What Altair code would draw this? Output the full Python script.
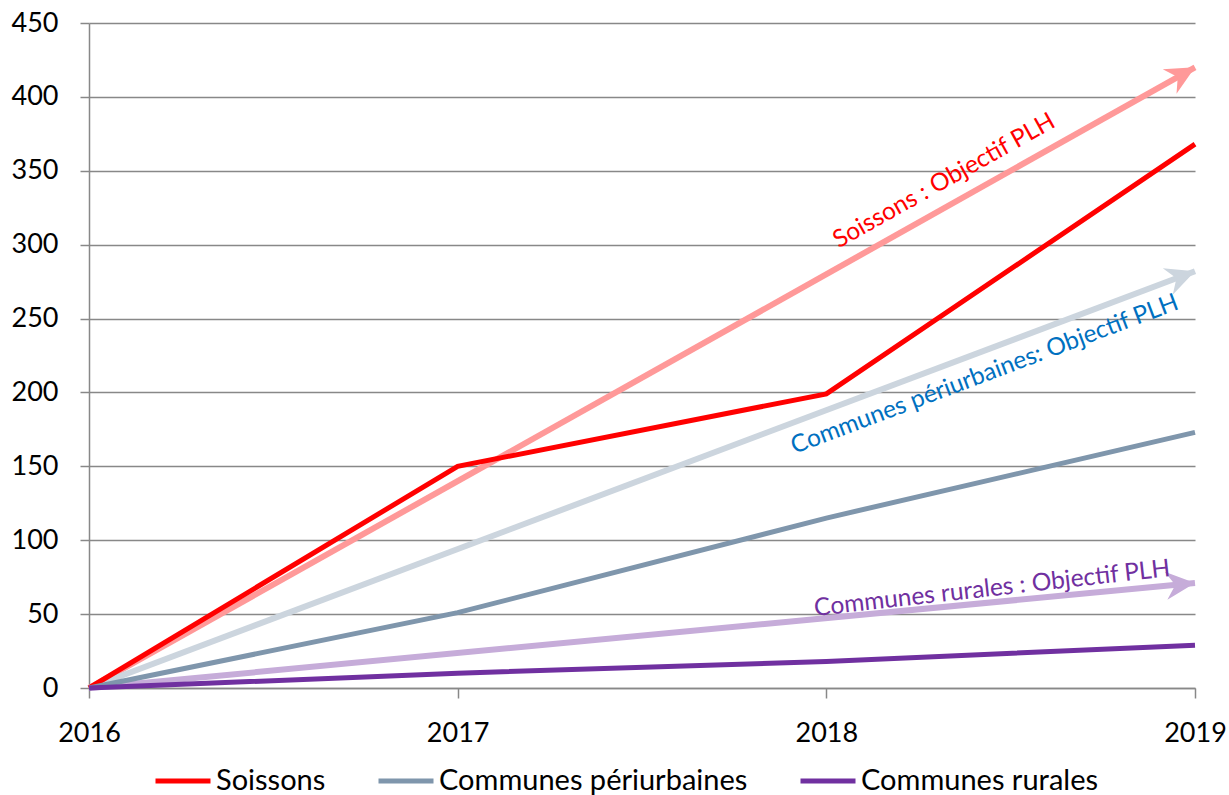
import math
import altair as alt
import pandas as pd

# ---------------- data ----------------
years = [2016, 2017, 2018, 2019]
series_names = ["Soissons", "Communes périurbaines", "Communes rurales"]
soissons = [0, 150, 199, 368]
periurbaines = [0, 51, 115, 173]
rurales = [0, 10, 18, 29]

objective_years = [2016, 2019]
obj_soissons = [0, 420]
obj_periurbaines = [0, 282]
obj_rurales = [0, 71]

label_texts = ["Soissons : Objectif PLH",
               "Communes périurbaines: Objectif PLH",
               "Communes rurales : Objectif PLH"]
label_x = [2018.32, 2018.43, 2018.45]
label_y = [343, 212, 67]

y_ticks = [0, 50, 100, 150, 200, 250, 300, 350, 400, 450]

# ---------------- styles ----------------
W, H = 1106, 665
Y_MAX = 450
FONT = "Lato"
line_colors = ["#FF0000", "#7F96AC", "#7030A0"]
obj_colors = ["#FF9999", "#CCD5DE", "#C6ACD9"]
text_colors = ["#FF0000", "#0070C0", "#7030A0"]

actual = pd.DataFrame(
    [{"year": y, "value": v, "series": s}
     for s, vals in zip(series_names, [soissons, periurbaines, rurales])
     for y, v in zip(years, vals)]
)
objectives = pd.DataFrame(
    [{"year": y, "value": v, "series": s}
     for s, vals in zip(series_names, [obj_soissons, obj_periurbaines, obj_rurales])
     for y, v in zip(objective_years, vals)]
)


def pixel_angle(vals):
    dy = (vals[-1] - vals[0]) / Y_MAX * H
    dx = W
    return (360 - math.degrees(math.atan2(dy, dx))) % 360


angles = [pixel_angle(v) for v in [obj_soissons, obj_periurbaines, obj_rurales]]
text_angles = [angles[0], angles[1], angles[2] - 1.0]
heads = pd.DataFrame(
    [{"year": objective_years[-1], "value": vals[-1], "series": s, "angle": a}
     for s, vals, a in zip(series_names, [obj_soissons, obj_periurbaines, obj_rurales], angles)]
)
labels = pd.DataFrame(
    [{"year": x, "value": y, "series": s, "text": t, "angle": a}
     for s, t, x, y, a in zip(series_names, label_texts, label_x, label_y, text_angles)]
)

x_scale = alt.Scale(domain=[2016, 2019], nice=False, zero=False)
y_scale = alt.Scale(domain=[0, Y_MAX], nice=False)

x_enc = alt.X("year:Q", scale=x_scale,
              axis=alt.Axis(values=years, format="d", title=None, grid=False,
                            tickSize=10, labelPadding=22, labelFlush=False))
y_enc = alt.Y("value:Q", scale=y_scale,
              axis=alt.Axis(values=y_ticks, title=None, grid=True,
                            tickSize=9, labelPadding=22))

obj_color = alt.Color("series:N", scale=alt.Scale(domain=series_names, range=obj_colors), legend=None)

obj_lines = alt.Chart(objectives).mark_line(strokeWidth=6, strokeCap="butt").encode(
    x=x_enc, y=y_enc, color=obj_color, detail="series:N"
)

arrow_path = "M0,0 L-0.97,-0.47 L-0.66,0 L-0.97,0.47 Z"
obj_heads = alt.Chart(heads).mark_point(
    shape=arrow_path, size=3600, filled=True, opacity=1, strokeWidth=0
).encode(
    x=x_enc, y=y_enc,
    color=alt.Color("series:N", scale=alt.Scale(domain=series_names, range=obj_colors), legend=None),
    angle=alt.Angle("angle:Q", scale=None),
)

actual_lines = alt.Chart(actual).mark_line(strokeWidth=5).encode(
    x=x_enc, y=y_enc,
    color=alt.Color(
        "series:N",
        scale=alt.Scale(domain=series_names, range=line_colors),
        sort=series_names,
        legend=alt.Legend(
            title=None, orient="none", direction="horizontal",
            legendX=64, legendY=728,
            symbolType="stroke", symbolSize=3025, symbolStrokeWidth=5,
            labelFont=FONT, labelFontSize=29, labelColor="#000000",
            labelOffset=3, columnPadding=42, padding=0, labelLimit=600,
        ),
    ),
)

texts = alt.Chart(labels).mark_text(
    font=FONT, fontSize=24.5, align="center", baseline="middle"
).encode(
    x=x_enc, y=y_enc, text="text:N",
    color=alt.Color("series:N", scale=alt.Scale(domain=series_names, range=text_colors), legend=None),
    angle=alt.Angle("angle:Q", scale=None),
)

chart = (
    alt.layer(obj_lines, obj_heads, actual_lines, texts)
    .resolve_scale(color="independent")
    .properties(
        width=W, height=H,
        autosize=alt.AutoSizeParams(type="none"),
        padding={"left": 89, "top": 23, "right": 34, "bottom": 107},
        background="white",
    )
    .configure_view(stroke=None)
    .configure_axis(
        domainColor="#888888", tickColor="#888888", gridColor="#888888",
        domainWidth=1.5, tickWidth=1.5, gridWidth=1.3,
        labelFont=FONT, labelFontSize=27, labelColor="#000000",
    )
)

chart.save("out.html", embed_options={"renderer": "svg", "actions": False})
